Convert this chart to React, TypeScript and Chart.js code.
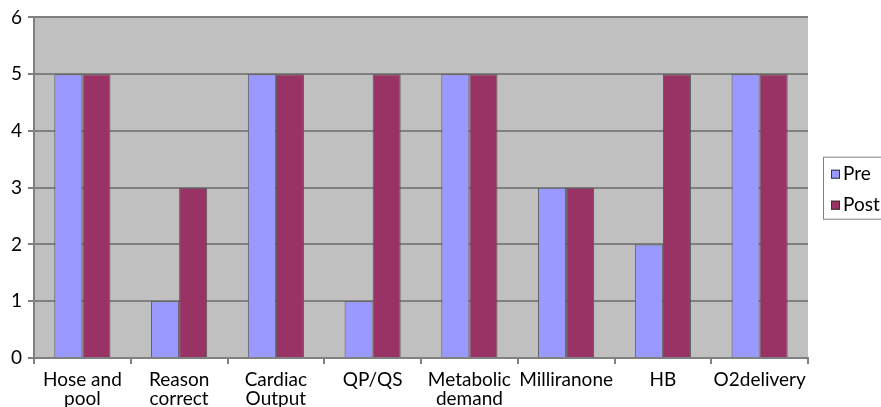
import React, { useEffect, useRef } from "react";
import { Chart, registerables } from "chart.js";

Chart.register(...registerables);

const categories: (string | string[])[] = [
  ["Hose and", "pool"],
  ["Reason", "correct"],
  ["Cardiac", "Output"],
  "QP/QS",
  ["Metabolic", "demand"],
  "Milliranone",
  "HB",
  "O2delivery",
];
const preValues = [5, 1, 5, 1, 5, 3, 2, 5];
const postValues = [5, 3, 5, 5, 5, 3, 5, 5];
const seriesNames = ["Pre", "Post"];
const seriesColors = ["#9999ff", "#993366"];
const yTicks = [0, 1, 2, 3, 4, 5, 6];

const FONT = "Lato, 'DejaVu Sans', sans-serif";

const plotBg = {
  id: "plotBg",
  beforeDraw(chart: any) {
    const { ctx, chartArea } = chart;
    ctx.save();
    ctx.fillStyle = "#c0c0c0";
    ctx.fillRect(chartArea.left, chartArea.top, chartArea.right - chartArea.left, chartArea.bottom - chartArea.top);
    ctx.restore();
  },
};

const boxLegend = {
  id: "boxLegend",
  afterDraw(chart: any) {
    const { ctx, chartArea } = chart;
    const x = chartArea.right + 15;
    const cy = (chartArea.top + chartArea.bottom) / 2;
    const h = 62;
    const y = cy - h / 2;
    ctx.save();
    ctx.strokeStyle = "#808080";
    ctx.lineWidth = 1;
    ctx.strokeRect(x + 0.5, y + 0.5, 80, h);
    ctx.font = `19px ${FONT}`;
    ctx.textBaseline = "middle";
    chart.data.datasets.forEach((ds: any, i: number) => {
      const rowY = y + 17 + i * 31;
      ctx.fillStyle = ds.backgroundColor;
      ctx.fillRect(x + 8, rowY - 4, 9, 9);
      ctx.strokeStyle = "#333";
      ctx.strokeRect(x + 8.5, rowY - 3.5, 8, 8);
      ctx.fillStyle = "#000";
      ctx.fillText(ds.label, x + 20, rowY);
    });
    ctx.restore();
  },
};

export default function App() {
  const ref = useRef<HTMLCanvasElement>(null);
  useEffect(() => {
    document.body.style.margin = "0";
    const chart = new Chart(ref.current!, {
      type: "bar",
      data: {
        labels: categories,
        datasets: [
          {
            label: seriesNames[0],
            data: preValues,
            backgroundColor: seriesColors[0],
            borderColor: "#555",
            borderWidth: 1,
          },
          {
            label: seriesNames[1],
            data: postValues,
            backgroundColor: seriesColors[1],
            borderColor: "#555",
            borderWidth: 1,
          },
        ],
      },
      options: {
        animation: false,
        responsive: false,
        maintainAspectRatio: false,
        layout: { padding: { top: 15, right: 73, left: 0, bottom: 0 } },
        datasets: { bar: { categoryPercentage: 0.58, barPercentage: 1 } },
        plugins: {
          legend: { display: false },
          tooltip: { enabled: false },
        },
        scales: {
          x: {
            offset: true,
            grid: {
              offset: true,
              drawOnChartArea: false,
              drawTicks: true,
              tickLength: 6,
              color: "#808080",
              lineWidth: 2,
            },
            border: { display: true, color: "#808080", width: 2 },
            ticks: {
              color: "#000",
              font: { family: FONT, size: 19, lineHeight: 1.0 },
              maxRotation: 0,
              autoSkip: false,
              padding: 6,
            },
            afterFit(scale: any) {
              scale.height = 49;
            },
          },
          y: {
            min: 0,
            max: 6,
            afterBuildTicks(scale: any) {
              scale.ticks = yTicks.map((v) => ({ value: v }));
            },
            grid: {
              color: "#808080",
              lineWidth: 2,
              tickLength: 6,
            },
            border: { display: true, color: "#808080", width: 2 },
            ticks: {
              color: "#000",
              font: { family: FONT, size: 19 },
              padding: 6,
            },
            afterFit(scale: any) {
              scale.width = 34;
            },
          },
        },
      },
      plugins: [plotBg, boxLegend],
    });
    return () => chart.destroy();
  }, []);
  return (
    <div style={{ width: 881, height: 407, background: "#fff" }}>
      <canvas ref={ref} width={881} height={407} style={{ display: "block" }} />
    </div>
  );
}
